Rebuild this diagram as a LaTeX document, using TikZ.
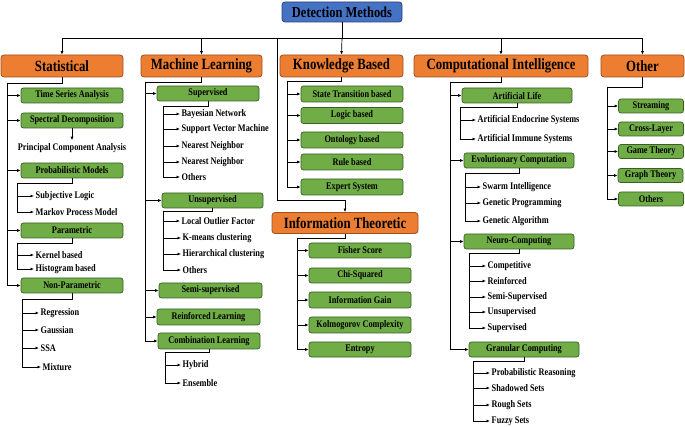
\documentclass[tikz,border=0pt]{standalone}
\usepackage{fontspec}
\setmainfont{Liberation Serif}
\newfontfamily\narrowfont[FakeStretch=0.82]{Liberation Serif}
\usetikzlibrary{arrows.meta}
\definecolor{bluefill}{HTML}{4472C4}
\definecolor{blueline}{HTML}{2F3F6F}
\definecolor{orangefill}{HTML}{ED7D31}
\definecolor{orangeline}{HTML}{A0501E}
\definecolor{greenfill}{HTML}{70AD47}
\definecolor{greenline}{HTML}{3A5F25}
\tikzset{
  >={Latex[length=3.5pt,width=3pt]},
  dmbox/.style={draw=blueline, fill=bluefill, rounded corners=3pt, line width=0.8pt, minimum width=120pt, minimum height=20pt, inner sep=0pt, font=\narrowfont\fontsize{15.2}{16}\selectfont\bfseries},
  catbox/.style={draw=orangeline, fill=orangefill, rounded corners=3pt, line width=0.8pt, minimum height=22pt, inner sep=0pt, font=\narrowfont\fontsize{15.6}{17}\selectfont\bfseries},
  subbox/.style={draw=greenline, fill=greenfill, rounded corners=2.5pt, line width=0.7pt, minimum width=102pt, minimum height=15pt, inner sep=0pt, font=\narrowfont\fontsize{10.1}{11}\selectfont\bfseries},
  leaf/.style={anchor=west, inner sep=1.5pt, font=\narrowfont\fontsize{10.1}{11}\selectfont\bfseries},
  conn/.style={line width=0.7pt}
}
\begin{document}
\begin{tikzpicture}[x=1pt,y=-1pt]
		\useasboundingbox (0,0) rectangle (685,427);
		% top
		\node[dmbox] (dm) at (342,12) {Detection Methods};
		\node[catbox, minimum width=122pt] (stat) at (62,66) {Statistical};
		\node[catbox, minimum width=121pt] (ml) at (201.5,66) {Machine Learning};
		\node[catbox, minimum width=123pt] (kb) at (341.5,66) {Knowledge Based};
		\node[catbox, minimum width=174pt] (ci) at (501,66) {Computational Intelligence};
		\node[catbox, minimum width=83pt] (oth) at (642.5,66) {Other};
		\node[catbox, minimum width=146pt, minimum height=21pt] (it) at (345,223) {Information Theoretic};
		\coordinate (bus) at (342,38);
		\coordinate (itcorner) at (277,200);
		\draw[conn] (dm.south) -- (bus);
		\draw[conn,->] (bus) -| (stat.north);
		\draw[conn,->] (bus) -| (ml.north);
		\draw[conn,->] (bus) -- (kb.north);
		\draw[conn,->] (bus) -| (ci.north);
		\draw[conn,->] (bus) -| (oth.north);
		\draw[conn,->] (bus) -| (itcorner) -| (it.north);

		% Statistical
		\node[subbox] (tsa) at (72,95.5) {Time Series Analysis};
		\node[subbox] (sd) at (72,120.5) {Spectral Decomposition};
		\node[leaf, anchor=center, inner sep=3pt] (pca) at (72,148) {Principal Component Analysis};
		\node[subbox] (pm) at (72,170.5) {Probabilistic Models};
		\node[subbox] (par) at (72,230.5) {Parametric};
		\node[subbox] (npar) at (72,285.5) {Non-Parametric};
		\node[leaf] (sl) at (34,196) {Subjective Logic};
		\node[leaf] (mpm) at (34,212) {Markov Process Model};
		\node[leaf] (kern) at (34,255) {Kernel based};
		\node[leaf] (hist) at (34,269) {Histogram based};
		\node[leaf] (reg) at (39,313) {Regression};
		\node[leaf] (gau) at (39,330) {Gaussian};
		\node[leaf] (ssa) at (39,348) {SSA};
		\node[leaf] (mix) at (41,367) {Mixture};
		\coordinate (st0) at (7,83);
		\coordinate (pm0) at (17,183);
		\coordinate (par0) at (17,243);
		\coordinate (np0) at (22,299);
		\draw[conn] (stat.south) |- (st0);
		\draw[conn,->] (st0) |- (tsa.west);
		\draw[conn,->] (st0) |- (sd.west);
		\draw[conn,->] (st0) |- (pm.west);
		\draw[conn,->] (st0) |- (par.west);
		\draw[conn,->] (st0) |- (npar.west);
		\draw[conn,->] (sd.south) -- (pca.north);
		\draw[conn] (pm.south) |- (pm0);
		\draw[conn,->] (pm0) |- (sl.west);
		\draw[conn,->] (pm0) |- (mpm.west);
		\draw[conn] (par.south) |- (par0);
		\draw[conn,->] (par0) |- (kern.west);
		\draw[conn,->] (par0) |- (hist.west);
		\draw[conn] (npar.south) |- (np0);
		\draw[conn,->] (np0) |- (reg.west);
		\draw[conn,->] (np0) |- (gau.west);
		\draw[conn,->] (np0) |- (ssa.west);
		\draw[conn,->] (np0) |- (mix.west);

		% Machine Learning
		\node[subbox] (sup) at (208,93.5) {Supervised};
		\node[subbox, minimum width=101pt] (uns) at (212.5,200.5) {Unsupervised};
		\node[subbox, minimum width=103pt] (semi) at (210.5,290.5) {Semi-supervised};
		\node[subbox, minimum width=103pt, minimum height=16pt] (rl) at (208.5,317) {Reinforced Learning};
		\node[subbox, minimum height=16pt] (cl) at (209,341) {Combination Learning};
		\node[leaf] (bn) at (180,114) {Bayesian Network};
		\node[leaf] (svm) at (180,129) {Support Vector Machine};
		\node[leaf] (nna) at (180,146) {Nearest Neighbor};
		\node[leaf] (nnb) at (180,162) {Nearest Neighbor};
		\node[leaf] (supo) at (180,177) {Others};
		\node[leaf] (lof) at (180,221) {Local Outlier Factor};
		\node[leaf] (kmc) at (181,238) {K-means clustering};
		\node[leaf] (hcl) at (181,254) {Hierarchical clustering};
		\node[leaf] (unso) at (181,270) {Others};
		\node[leaf] (hyb) at (181,365) {Hybrid};
		\node[leaf] (ens) at (181,383) {Ensemble};
		\coordinate (ml0) at (145,82);
		\coordinate (sup0) at (163,106);
		\coordinate (uns0) at (163,211);
		\coordinate (cl0) at (165,352);
		\draw[conn] (ml.south) |- (ml0);
		\draw[conn,->] (ml0) |- (sup.west);
		\draw[conn,->] (ml0) |- (uns.west);
		\draw[conn,->] (ml0) |- (semi.west);
		\draw[conn,->] (ml0) |- (rl.west);
		\draw[conn,->] (ml0) |- (cl.west);
		\draw[conn] (sup.south) |- (sup0);
		\draw[conn,->] (sup0) |- (bn.west);
		\draw[conn,->] (sup0) |- (svm.west);
		\draw[conn,->] (sup0) |- (nna.west);
		\draw[conn,->] (sup0) |- (nnb.west);
		\draw[conn,->] (sup0) |- (supo.west);
		\draw[conn] (uns.south) |- (uns0);
		\draw[conn,->] (uns0) |- (lof.west);
		\draw[conn,->] (uns0) |- (kmc.west);
		\draw[conn,->] (uns0) |- (hcl.west);
		\draw[conn,->] (uns0) |- (unso.west);
		\draw[conn] (cl.south) |- (cl0);
		\draw[conn,->] (cl0) |- (hyb.west);
		\draw[conn,->] (cl0) |- (ens.west);

		% Knowledge Based
		\node[subbox, minimum height=16pt] (stb) at (352,94) {State Transition based};
		\node[subbox, minimum height=16pt] (lgb) at (352,115.5) {Logic based};
		\node[subbox, minimum height=16pt] (onb) at (352,140) {Ontology based};
		\node[subbox, minimum height=16pt] (rub) at (352,162) {Rule based};
		\node[subbox, minimum height=16pt] (exs) at (352,187) {Expert System};
		\coordinate (kb0) at (287,81);
		\draw[conn] (kb.south) |- (kb0);
		\draw[conn,->] (kb0) |- (stb.west);
		\draw[conn,->] (kb0) |- (lgb.west);
		\draw[conn,->] (kb0) |- (onb.west);
		\draw[conn,->] (kb0) |- (rub.west);
		\draw[conn,->] (kb0) |- (exs.west);

		% Information Theoretic
		\node[subbox] (fis) at (360,250.5) {Fisher Score};
		\node[subbox] (chi) at (360,275.5) {Chi-Squared};
		\node[subbox, minimum height=16pt] (ing) at (360,300) {Information Gain};
		\node[subbox, minimum height=16pt] (kol) at (360,325) {Kolmogorov Complexity};
		\node[subbox] (ent) at (360,349.5) {Entropy};
		\coordinate (it0) at (297,238);
		\draw[conn] (it.south) |- (it0);
		\draw[conn,->] (it0) |- (fis.west);
		\draw[conn,->] (it0) |- (chi.west);
		\draw[conn,->] (it0) |- (ing.west);
		\draw[conn,->] (it0) |- (kol.west);
		\draw[conn,->] (it0) |- (ent.west);

		% Computational Intelligence
		\node[subbox, minimum width=110pt] (alife) at (517,95.5) {Artificial Life};
		\node[subbox, minimum width=110pt] (evc) at (519,160.5) {Evolutionary Computation};
		\node[subbox, minimum width=110pt] (neu) at (519,241.5) {Neuro-Computing};
		\node[subbox, minimum width=110pt] (gran) at (524,349.5) {Granular Computing};
		\node[leaf] (aes) at (476,120) {Artificial Endocrine Systems};
		\node[leaf] (ais) at (476,139) {Artificial Immune Systems};
		\node[leaf] (swi) at (481,187) {Swarm Intelligence};
		\node[leaf] (gpr) at (481,203) {Genetic Programming};
		\node[leaf] (gal) at (481,221) {Genetic Algorithm};
		\node[leaf] (cmp) at (486,266) {Competitive};
		\node[leaf] (rei) at (486,281) {Reinforced};
		\node[leaf] (ssu) at (486,297) {Semi-Supervised};
		\node[leaf] (nuns) at (486,312) {Unsupervised};
		\node[leaf] (nsup) at (486,328) {Supervised};
		\node[leaf] (prr) at (490,373) {Probabilistic Reasoning};
		\node[leaf] (shs) at (490,388) {Shadowed Sets};
		\node[leaf] (ros) at (490,405) {Rough Sets};
		\node[leaf] (fzs) at (490,421) {Fuzzy Sets};
		\coordinate (ci0) at (450,82);
		\coordinate (al0) at (460,107);
		\coordinate (ev0) at (465,173);
		\coordinate (ne0) at (469,253);
		\coordinate (gr0) at (473,361);
		\draw[conn] (ci.south) |- (ci0);
		\draw[conn,->] (ci0) |- (alife.west);
		\draw[conn,->] (ci0) |- (evc.west);
		\draw[conn,->] (ci0) |- (neu.west);
		\draw[conn,->] (ci0) |- (gran.west);
		\draw[conn] (alife.south) |- (al0);
		\draw[conn,->] (al0) |- (aes.west);
		\draw[conn,->] (al0) |- (ais.west);
		\draw[conn] (evc.south) |- (ev0);
		\draw[conn,->] (ev0) |- (swi.west);
		\draw[conn,->] (ev0) |- (gpr.west);
		\draw[conn,->] (ev0) |- (gal.west);
		\draw[conn] (neu.south) |- (ne0);
		\draw[conn,->] (ne0) |- (cmp.west);
		\draw[conn,->] (ne0) |- (rei.west);
		\draw[conn,->] (ne0) |- (ssu.west);
		\draw[conn,->] (ne0) |- (nuns.west);
		\draw[conn,->] (ne0) |- (nsup.west);
		\draw[conn] (gran.south) |- (gr0);
		\draw[conn,->] (gr0) |- (prr.west);
		\draw[conn,->] (gr0) |- (shs.west);
		\draw[conn,->] (gr0) |- (ros.west);
		\draw[conn,->] (gr0) |- (fzs.west);

		% Other
		\node[subbox, minimum width=65pt, minimum height=14pt] (strm) at (651,106) {Streaming};
		\node[subbox, minimum width=65pt, minimum height=14pt] (crl) at (651,129) {Cross-Layer};
		\node[subbox, minimum width=65pt, minimum height=14pt] (gmt) at (651,151.5) {Game Theory};
		\node[subbox, minimum width=65pt, minimum height=14pt] (grt) at (650.5,175.5) {Graph Theory};
		\node[subbox, minimum width=65pt, minimum height=14pt] (otho) at (651,199) {Others};
		\coordinate (ot0) at (607,87);
		\draw[conn] (oth.south) |- (ot0);
		\draw[conn,->] (ot0) |- (strm.west);
		\draw[conn,->] (ot0) |- (crl.west);
		\draw[conn,->] (ot0) |- (gmt.west);
		\draw[conn,->] (ot0) |- (grt.west);
		\draw[conn,->] (ot0) |- (otho.west);
\end{tikzpicture}
\end{document}
